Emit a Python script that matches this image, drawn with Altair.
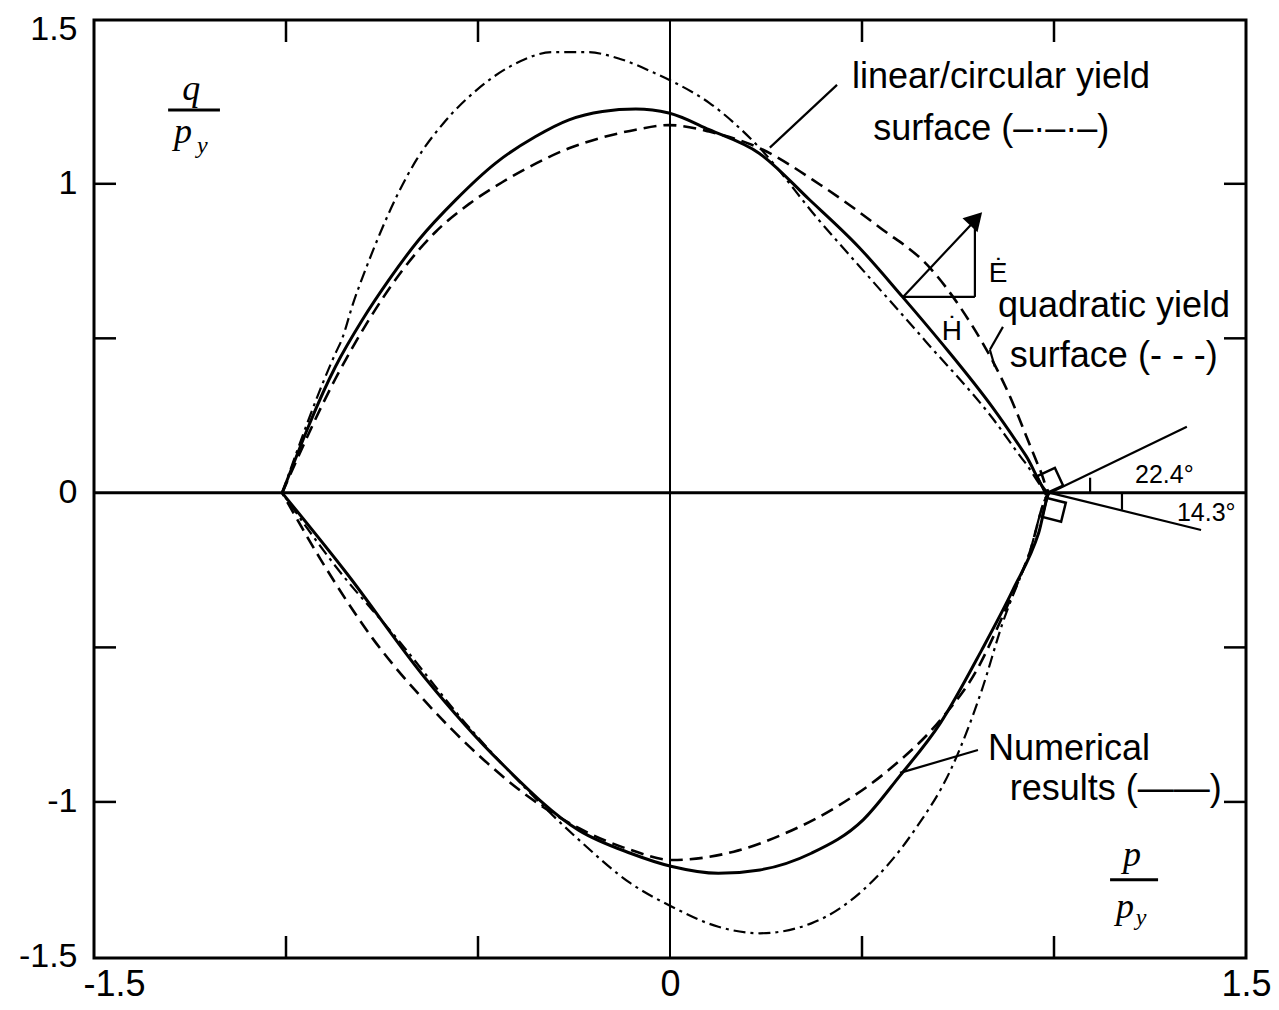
import altair as alt
import pandas as pd

# ---------------- data (p/p_y , q/p_y) ----------------
# Numerical results (solid)
num_up_p = [-1.01, -0.871, -0.801, -0.732, -0.654, -0.558, -0.454, -0.350, -0.263, -0.176, -0.089, -0.003,
            0.102, 0.232, 0.362, 0.492, 0.605, 0.709, 0.839, 0.926, 0.99]
num_up_q = [0.0, 0.409, 0.560, 0.689, 0.819, 0.948, 1.067, 1.153, 1.207, 1.234, 1.242, 1.229,
            1.175, 1.099, 0.950, 0.795, 0.635, 0.482, 0.278, 0.122, 0.0]
num_lo_p = [-1.01, -0.842, -0.641, -0.439, -0.237, -0.103, 0.005, 0.126, 0.234, 0.368, 0.503, 0.597,
            0.704, 0.812, 0.893, 0.960, 0.99]
num_lo_q = [0.0, -0.260, -0.594, -0.875, -1.092, -1.166, -1.209, -1.231, -1.220, -1.166, -1.058, -0.918,
            -0.745, -0.508, -0.314, -0.130, 0.0]

# linear/circular yield surface (dash-dot)
lin_up_p = [-1.01, -0.871, -0.855, -0.825, -0.790, -0.755, -0.712, -0.660, -0.590, -0.503, -0.416, -0.303,
            -0.216, -0.130, -0.043, 0.005, 0.102, 0.232, 0.388, 0.492, 0.666, 0.839, 0.926, 0.99]
lin_up_q = [0.0, 0.452, 0.495, 0.614, 0.732, 0.840, 0.959, 1.078, 1.196, 1.304, 1.380, 1.426,
            1.426, 1.404, 1.360, 1.332, 1.262, 1.118, 0.882, 0.735, 0.490, 0.243, 0.096, 0.0]
lin_lo_p = [-1.01, -0.870, -0.708, -0.533, -0.372, -0.237, -0.103, 0.005, 0.126, 0.234, 0.368, 0.503,
            0.637, 0.731, 0.812, 0.866, 0.933, 0.99]
lin_lo_q = [0.0, -0.239, -0.476, -0.745, -0.961, -1.123, -1.263, -1.339, -1.404, -1.425, -1.393, -1.285,
            -1.091, -0.896, -0.638, -0.422, -0.206, 0.0]

# quadratic yield surface (dashed)
quad_up_p = [-1.01, -0.871, -0.784, -0.697, -0.610, -0.523, -0.437, -0.350, -0.263, -0.176, -0.089, -0.003,
             0.102, 0.232, 0.391, 0.547, 0.677, 0.755, 0.875, 0.964, 0.99]
quad_up_q = [0.0, 0.370, 0.560, 0.720, 0.845, 0.935, 1.005, 1.065, 1.115, 1.150, 1.175, 1.190,
             1.169, 1.116, 0.997, 0.858, 0.728, 0.602, 0.340, 0.074, 0.0]
quad_lo_p = [-1.01, -0.910, -0.775, -0.641, -0.506, -0.372, -0.237, -0.103, 0.005, 0.166, 0.301, 0.435,
             0.570, 0.704, 0.799, 0.866, 0.933, 0.99]
quad_lo_q = [0.0, -0.215, -0.470, -0.670, -0.840, -0.980, -1.085, -1.155, -1.188, -1.161, -1.101, -1.015,
             -0.896, -0.735, -0.573, -0.400, -0.206, 0.0]

# axis ticks / labels
x_label_values = [-1.5, 0, 1.5]
y_label_values = [-1.5, -1, 0, 1, 1.5]
minor_ticks = [-1, -0.5, 0.5, 1]

# annotation texts (data coordinates of left end / baseline)
notes_text = ["linear/circular yield", "surface (\u2013\u00b7\u2013\u00b7\u2013)",
              "quadratic yield", "surface (- - -)",
              "Numerical", "results (\u2014\u2014)"]
notes_p = [0.474, 0.529, 0.854, 0.885, 0.828, 0.885]
notes_q = [1.311, 1.142, 0.570, 0.408, -0.864, -0.994]

small_text = ["\u0116", "\u1e22", "22.4\u00b0", "14.3\u00b0"]
small_p = [0.830, 0.708, 1.211, 1.320]
small_q = [0.683, 0.495, 0.032, -0.091]
small_size = [28, 28, 25, 25]

# fraction labels q/p_y and p/p_y
frac_big_text = ["q", "p", "p", "p"]
frac_big_p = [-1.247, -1.268, 1.203, 1.185]
frac_big_q = [1.272, 1.133, -1.207, -1.375]
frac_sub_text = ["y", "y"]
frac_sub_p = [-1.232, 1.213]
frac_sub_q = [1.100, -1.398]
bar_p1 = [-1.307, 1.146]
bar_p2 = [-1.172, 1.271]
bar_q = [1.239, -1.252]

# leader lines, angle lines, strain-rate triangle (segments p1,q1 -> p2,q2)
seg_p1 = [0.260, 0.599, 0.867, 0.833, 0.99, 0.99, 0.607, 0.794, 0.607, 1.094, 1.177]
seg_q1 = [1.117, -0.906, 0.537, 0.463, 0.0, 0.0, 0.634, 0.634, 0.634, 0.049, 0.0]
seg_p2 = [0.435, 0.802, 0.833, 0.846, 1.346, 1.383, 0.794, 0.794, 0.806, 1.094, 1.177]
seg_q2 = [1.320, -0.832, 0.463, 0.408, 0.214, -0.120, 0.634, 0.883, 0.897, 0.0, -0.055]

# right-angle markers at the vertex and arrow head
sq_p = [0.990, 1.000]
sq_q = [0.039, -0.055]
sq_angle = [335, 14]
head_p = [0.797]
head_q = [0.887]

# ---------------- chart ----------------
W, H = 1152, 938
xs = alt.Scale(domain=[-1.5, 1.5], nice=False, zero=False)
ys = alt.Scale(domain=[-1.505, 1.53], nice=False, zero=False)
FONT = "Liberation Sans"

lab_expr = "datum.value < 0 ? '-' + format(-datum.value, '~g') : format(datum.value, '~g')"
AX_X = alt.Axis(values=x_label_values, labelExpr=lab_expr, ticks=False, domain=False, grid=False,
                title=None, orient="bottom",
                labelFont=FONT, labelFontSize=36, labelColor="black", labelPadding=9,
                labelFlush=False, labelOverlap=False,
                labelOffset={"condition": {"test": "datum.value < -1", "value": 20}, "value": 0})
AX_Y = alt.Axis(values=y_label_values, labelExpr=lab_expr, ticks=False, domain=False, grid=False,
                title=None, orient="left",
                labelFont=FONT, labelFontSize=34, labelColor="black", labelPadding=17,
                labelFlush=False, labelOverlap=False)


def X(f):
    return alt.X(f, scale=xs, axis=AX_X, title=None)


def Y(f):
    return alt.Y(f, scale=ys, axis=AX_Y, title=None)


def curve_df(up_p, up_q, lo_p, lo_q):
    p = list(up_p) + list(lo_p)[::-1]
    q = list(up_q) + list(lo_q)[::-1]
    return pd.DataFrame({"p": p, "q": q, "o": list(range(len(p)))})


def curve(df, dash, width):
    kw = dict(color="black", strokeWidth=width, interpolate="monotone")
    if dash:
        kw["strokeDash"] = dash
    return alt.Chart(df).mark_line(**kw).encode(x=X("p:Q"), y=Y("q:Q"), order="o:Q")


axes_df = pd.DataFrame({"v": [0]})
zero_h = alt.Chart(axes_df).mark_rule(color="black", strokeWidth=3).encode(
    y=Y("v:Q"), x=alt.value(0), x2=alt.value(W))
zero_v = alt.Chart(axes_df).mark_rule(color="black", strokeWidth=2).encode(
    x=X("v:Q"), y=alt.value(0), y2=alt.value(H))

tick_df = pd.DataFrame({"t": minor_ticks})
TL = 22
ticks = [
    alt.Chart(tick_df).mark_rule(color="black", strokeWidth=2.5).encode(
        x=X("t:Q"), y=alt.value(0), y2=alt.value(TL)),
    alt.Chart(tick_df).mark_rule(color="black", strokeWidth=2.5).encode(
        x=X("t:Q"), y=alt.value(H - TL), y2=alt.value(H)),
    alt.Chart(tick_df).mark_rule(color="black", strokeWidth=2.5).encode(
        y=Y("t:Q"), x=alt.value(0), x2=alt.value(TL)),
    alt.Chart(tick_df).mark_rule(color="black", strokeWidth=2.5).encode(
        y=Y("t:Q"), x=alt.value(W - TL), x2=alt.value(W)),
]

num_c = curve(curve_df(num_up_p, num_up_q, num_lo_p, num_lo_q), None, 3)
lin_c = curve(curve_df(lin_up_p, lin_up_q, lin_lo_p, lin_lo_q), [12, 5, 3, 5], 2.2)
quad_c = curve(curve_df(quad_up_p, quad_up_q, quad_lo_p, quad_lo_q), [13, 7], 2.6)

seg_df = pd.DataFrame({"p1": seg_p1, "q1": seg_q1, "p2": seg_p2, "q2": seg_q2})
segs = alt.Chart(seg_df).mark_rule(color="black", strokeWidth=2.2).encode(
    x=X("p1:Q"), y=Y("q1:Q"), x2="p2:Q", y2="q2:Q")

bar_df = pd.DataFrame({"p1": bar_p1, "p2": bar_p2, "q": bar_q})
bars = alt.Chart(bar_df).mark_rule(color="black", strokeWidth=3).encode(
    x=X("p1:Q"), x2="p2:Q", y=Y("q:Q"))

sq_df = pd.DataFrame({"p": sq_p, "q": sq_q, "a": sq_angle})
squares = alt.Chart(sq_df).mark_point(shape="square", filled=False, color="black", strokeWidth=2.5,
                                      size=380, opacity=1).encode(
    x=X("p:Q"), y=Y("q:Q"), angle=alt.Angle("a:Q", scale=None))

head_df = pd.DataFrame({"p": head_p, "q": head_q})
head = alt.Chart(head_df).mark_point(shape="triangle-up", filled=True, color="black", size=420,
                                     angle=43, opacity=1).encode(x=X("p:Q"), y=Y("q:Q"))

notes_df = pd.DataFrame({"t": notes_text, "p": notes_p, "q": notes_q})
notes = alt.Chart(notes_df).mark_text(align="left", baseline="alphabetic", font=FONT, fontSize=36,
                                      color="black").encode(x=X("p:Q"), y=Y("q:Q"), text="t:N")

small_df = pd.DataFrame({"t": small_text, "p": small_p, "q": small_q, "s": small_size})
small = alt.Chart(small_df).mark_text(align="left", baseline="alphabetic", font=FONT + ", DejaVu Sans",
                                      color="black").encode(
    x=X("p:Q"), y=Y("q:Q"), text="t:N", size=alt.Size("s:Q", scale=None, legend=None))

fb_df = pd.DataFrame({"t": frac_big_text, "p": frac_big_p, "q": frac_big_q})
frac_big = alt.Chart(fb_df).mark_text(align="center", baseline="alphabetic", font="Liberation Serif",
                                      fontStyle="italic", fontSize=36, color="black").encode(
    x=X("p:Q"), y=Y("q:Q"), text="t:N")

fs_df = pd.DataFrame({"t": frac_sub_text, "p": frac_sub_p, "q": frac_sub_q})
frac_sub = alt.Chart(fs_df).mark_text(align="left", baseline="alphabetic", font="Liberation Serif",
                                      fontStyle="italic", fontSize=24, color="black").encode(
    x=X("p:Q"), y=Y("q:Q"), text="t:N")

chart = alt.layer(
    zero_h, zero_v, *ticks, quad_c, lin_c, num_c, segs, bars, squares, head,
    notes, small, frac_big, frac_sub,
).properties(
    width=W, height=H,
    padding={"left": 86, "top": 12, "right": 25, "bottom": 50},
    autosize=alt.AutoSizeParams(type="none"),
    background="white",
).configure_view(stroke="black", strokeWidth=3)

chart.save("out.html", embed_options={"renderer": "svg", "actions": False})
